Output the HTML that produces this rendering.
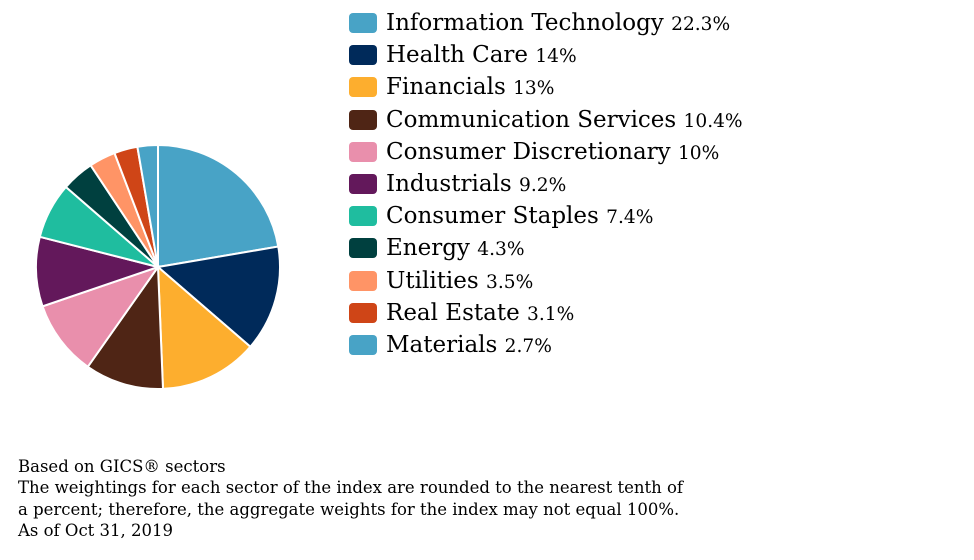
<!DOCTYPE html>
<html><head><meta charset="utf-8"><style>
body{margin:0;background:#fff;width:974px;height:560px;overflow:hidden;position:relative;font-family:"DejaVu Serif","Liberation Serif",serif;color:#000}
.row{position:absolute;left:349px;height:22px;white-space:nowrap}
.sw{position:absolute;left:0;top:0;width:28px;height:20px;border-radius:4px}
.lb{position:absolute;left:37px;top:-5px;font-size:23px;line-height:30px}
.lb span{font-size:18.6px}
.foot{position:absolute;left:18px;top:456px;font-size:16.5px;line-height:21.4px}
</style></head><body>
<svg id="pie" width="974" height="560" style="position:absolute;left:0;top:0"></svg>
<div id="leg"></div>
<div class="foot">Based on GICS® sectors<br>The weightings for each sector of the index are rounded to the nearest tenth of<br>a percent; therefore, the aggregate weights for the index may not equal 100%.<br>As of Oct 31, 2019</div>
<script>
var d=[["Information Technology",22.3,"#48a3c6","22.3%"],["Health Care",14,"#002a5a","14%"],["Financials",13,"#fdae2e","13%"],["Communication Services",10.4,"#4f2515","10.4%"],["Consumer Discretionary",10,"#e98fac","10%"],["Industrials",9.2,"#63185b","9.2%"],["Consumer Staples",7.4,"#1fbd9f","7.4%"],["Energy",4.3,"#00403f","4.3%"],["Utilities",3.5,"#ff9466","3.5%"],["Real Estate",3.1,"#cf4517","3.1%"],["Materials",2.7,"#48a3c6","2.7%"]];
var tot=0;d.forEach(function(x){tot+=x[1]});
var cx=158,cy=267,r=122,a=0,s="",l="";
d.forEach(function(x,i){
var a2=a+x[1]/tot*2*Math.PI;
var x1=cx+r*Math.sin(a),y1=cy-r*Math.cos(a),x2=cx+r*Math.sin(a2),y2=cy-r*Math.cos(a2);
s+='<path d="M'+cx+','+cy+'L'+x1+','+y1+'A'+r+','+r+' 0 '+((a2-a)>Math.PI?1:0)+' 1 '+x2+','+y2+'Z" fill="'+x[2]+'" stroke="#fff" stroke-width="2"/>';
a=a2;
l+='<div class="row" style="top:'+(13+i*32.2)+'px"><div class="sw" style="background:'+x[2]+'"></div><div class="lb">'+x[0]+' <span>'+x[3]+'</span></div></div>';
});
document.getElementById("pie").innerHTML=s;
document.getElementById("leg").innerHTML=l;
</script>
</body></html>
